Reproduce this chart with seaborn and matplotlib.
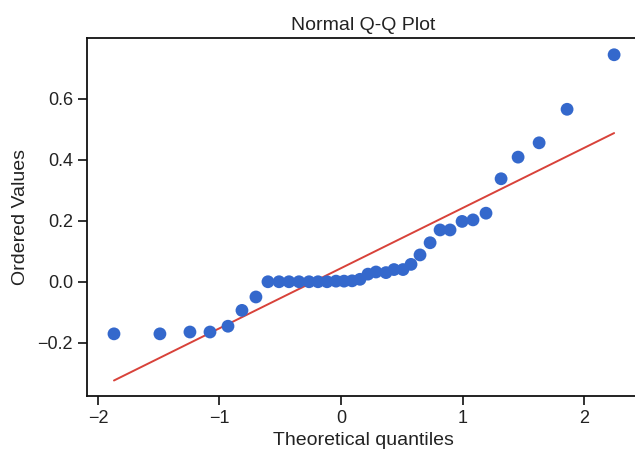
import numpy as np
import pandas as pd
import matplotlib
matplotlib.use('Agg')
import matplotlib.pyplot as plt
import seaborn as sns

# values
theoretical = [-1.868, -1.490, -1.243, -1.078, -0.930, -0.815, -0.700, -0.601,
               -0.510, -0.428, -0.346, -0.263, -0.189, -0.115, -0.041, 0.025,
               0.091, 0.156, 0.222, 0.288, 0.370, 0.436, 0.510, 0.576,
               0.650, 0.733, 0.815, 0.897, 0.996, 1.086, 1.193, 1.317,
               1.457, 1.630, 1.860, 2.247]
ordered = [-0.171, -0.171, -0.165, -0.165, -0.146, -0.094, -0.050, 0.000,
           0.000, 0.000, 0.000, 0.000, 0.000, 0.000, 0.002, 0.002,
           0.003, 0.008, 0.025, 0.032, 0.030, 0.040, 0.040, 0.057,
           0.088, 0.128, 0.170, 0.170, 0.198, 0.203, 0.225, 0.338,
           0.409, 0.456, 0.566, 0.745]
x_ticks = [-2, -1, 0, 1, 2]
y_ticks = [-0.2, 0.0, 0.2, 0.4, 0.6]

df = pd.DataFrame({'Theoretical quantiles': theoretical, 'Ordered Values': ordered})

sns.set_theme(style='ticks', rc={
    'axes.linewidth': 1.3,
    'xtick.major.width': 1.3,
    'ytick.major.width': 1.3,
    'xtick.major.size': 6.5,
    'ytick.major.size': 6.5,
})
plt.rcParams['font.family'] = ['Liberation Sans', 'DejaVu Sans']

fig = plt.figure(figsize=(6.35, 4.51), dpi=100)
ax = fig.add_axes([87/635, 55/451, 553/635, 358/451])

# least squares fit line, like probplot
slope, intercept = np.polyfit(df['Theoretical quantiles'], df['Ordered Values'], 1)
xs = np.array([min(theoretical), max(theoretical)])
ax.plot(xs, slope*xs + intercept, color='#d8423a', lw=1.4, zorder=1)

sns.scatterplot(data=df, x='Theoretical quantiles', y='Ordered Values', ax=ax,
                color='#3468cc', s=85, edgecolor='none', zorder=2)

ax.set_xlim(-2.09, 2.46)
ax.set_ylim(-0.375, 0.80)
ax.set_xticks(x_ticks)
ax.set_yticks(y_ticks)
ax.set_yticklabels([f'{v:.1f}'.replace('-', '\u2212') for v in y_ticks])
ax.tick_params(labelsize=13, colors='#222222')
ax.set_title('Normal Q-Q Plot', fontsize=14, color='#222222', pad=6)
ax.set_xlabel('Theoretical quantiles', fontsize=14, color='#222222', labelpad=4)
ax.set_ylabel('Ordered Values', fontsize=14, color='#222222', labelpad=6)
for sp in ax.spines.values():
    sp.set_visible(True)
    sp.set_color('#111111')

plt.savefig('out.png', dpi=100)
